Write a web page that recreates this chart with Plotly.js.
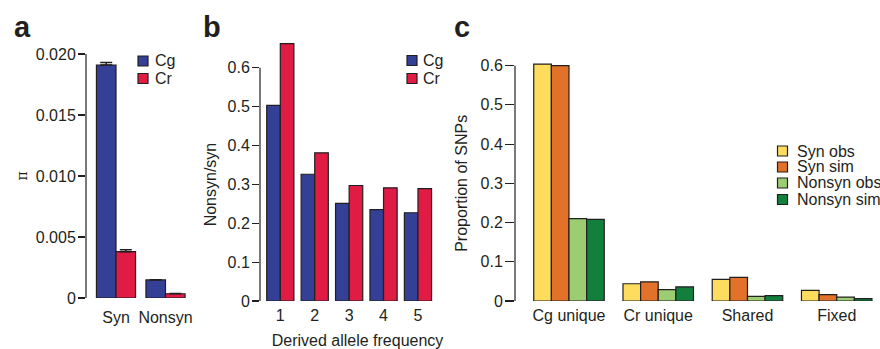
<!DOCTYPE html>
<html><head><meta charset="utf-8">
<script src="https://cdn.plot.ly/plotly-3.0.1.min.js"></script>
<style>html,body{margin:0;padding:0;background:#fff}#chart{width:880px;height:349px}</style>
</head><body><div id="chart"></div>
<script>
// ---- Panel a: nucleotide diversity (pi)
const piCategories = ["Syn", "Nonsyn"];
const piCg = [0.0191, 0.00148];
const piCr = [0.0038, 0.00035];
const piCgErr = [0.0002, 0.00002];
const piCrErr = [0.00015, 0.00002];
const piTickVals = [0, 0.005, 0.010, 0.015, 0.020];
const piTickText = ["0", "0.005", "0.010", "0.015", "0.020"];
// ---- Panel b: nonsyn/syn by derived allele frequency
const dafCategories = ["1", "2", "3", "4", "5"];
const ratioCg = [0.503, 0.326, 0.251, 0.235, 0.227];
const ratioCr = [0.662, 0.381, 0.297, 0.291, 0.289];
// ---- Panel c: proportion of SNPs
const snpCategories = ["Cg unique", "Cr unique", "Shared", "Fixed"];
const synObs = [0.604, 0.044, 0.055, 0.027];
const synSim = [0.600, 0.049, 0.060, 0.016];
const nonsynObs = [0.210, 0.029, 0.012, 0.010];
const nonsynSim = [0.208, 0.036, 0.0135, 0.006];

const speciesNames = ["Cg", "Cr"];
const speciesColors = ["#343f96", "#e01b44"];
const snpNames = ["Syn obs", "Syn sim", "Nonsyn obs", "Nonsyn sim"];
const snpColors = ["#fddc5e", "#e2722a", "#9ccd73", "#127f3c"];

const W = 880, H = 349;
const px = v => v / W;
const py = v => 1 - v / H;
const FONT = "Liberation Sans, Arial, Helvetica, sans-serif";
const FS = 16;
const TXT = "#231f20";
const outline = {color: "#231f20", width: 1.2};

const traces = [
  {type: "bar", x: piCategories, y: piCg, name: "Cg", xaxis: "x", yaxis: "y",
   marker: {color: speciesColors[0], line: outline},
   error_y: {type: "data", symmetric: false, array: piCgErr, arrayminus: [0, 0], color: "#231f20", thickness: 1.5, width: 6}},
  {type: "bar", x: piCategories, y: piCr, name: "Cr", xaxis: "x", yaxis: "y",
   marker: {color: speciesColors[1], line: outline},
   error_y: {type: "data", symmetric: false, array: piCrErr, arrayminus: [0, 0], color: "#231f20", thickness: 1.5, width: 6}},
  {type: "bar", x: dafCategories, y: ratioCg, name: "Cg", xaxis: "x2", yaxis: "y2",
   marker: {color: speciesColors[0], line: outline}},
  {type: "bar", x: dafCategories, y: ratioCr, name: "Cr", xaxis: "x2", yaxis: "y2",
   marker: {color: speciesColors[1], line: outline}},
];
[synObs, synSim, nonsynObs, nonsynSim].forEach((arr, i) => {
  traces.push({type: "bar", x: snpCategories, y: arr, name: snpNames[i], xaxis: "x3", yaxis: "y3",
    marker: {color: snpColors[i], line: outline}});
});

const yBase = {showline: false, ticks: "outside", ticklen: 7, tickwidth: 1.2,
  tickcolor: "#231f20", showgrid: false, zeroline: false, fixedrange: true, ticklabelstandoff: -1,
  tickfont: {family: FONT, size: FS, color: TXT}};
const xBase = {showline: false, showgrid: false, zeroline: false, ticks: "outside", tickcolor: "rgba(0,0,0,0)",
  tickfont: {family: FONT, size: FS, color: TXT}, type: "category", fixedrange: true};

const shapes = [], annotations = [];
// y axis lines spanning the tick range only
[["x", "y", 0.02], ["x2", "y2", 0.6], ["x3", "y3", 0.6]].forEach(([xa, ya, top]) => {
  shapes.push({type: "line", xref: xa + " domain", yref: ya, x0: 0, x1: 0, y0: 0, y1: top,
    line: {color: "#231f20", width: 1.2}});
});
// y axis titles centred on the axis lines
[["π", 21.5, "y", 0.01, "DejaVu Serif, serif", 14], ["Nonsyn/syn", 210, "y2", 0.3, FONT, FS],
 ["Proportion of SNPs", 461.5, "y3", 0.3, FONT, FS]].forEach(([t, x, ya, yv, fam, sz]) => {
  annotations.push({xref: "paper", yref: ya, x: px(x), y: yv, xanchor: "center", yanchor: "middle", textangle: -90,
    text: t, showarrow: false, font: {family: fam, size: sz, color: TXT}});
});

// legends drawn as squares + text
function legend(names, colors, sqX, textX, rowsY) {
  names.forEach((n, i) => {
    shapes.push({type: "rect", xref: "paper", yref: "paper", x0: px(sqX), x1: px(sqX + 10),
      y0: py(rowsY[i] + 5), y1: py(rowsY[i] - 5), fillcolor: colors[i], line: {color: "#231f20", width: 1.2}});
    annotations.push({xref: "paper", yref: "paper", x: px(textX), y: py(rowsY[i]), xanchor: "left", yanchor: "middle",
      text: n, showarrow: false, font: {family: FONT, size: FS, color: TXT}});
  });
}
legend(speciesNames, speciesColors, 138, 153, [61, 78.5]);
legend(speciesNames, speciesColors, 407, 421, [60.5, 78.5]);
legend(snpNames, snpColors, 777.5, 795, [151, 167, 183, 199.5]);

[["a", 12], ["b", 201], ["c", 452]].forEach(([t, x]) => {
  annotations.push({xref: "paper", yref: "paper", x: px(x), y: py(27), xanchor: "left", yanchor: "middle",
    text: "<b>" + t + "</b>", showarrow: false, font: {family: FONT, size: 29, color: TXT}});
});

const layout = {
  width: W, height: H, margin: {l: 0, r: 0, t: 0, b: 0}, paper_bgcolor: "#fff", plot_bgcolor: "rgba(0,0,0,0)",
  showlegend: false, barmode: "group", font: {family: FONT, color: TXT},
  xaxis: Object.assign({}, xBase, {domain: [px(86), px(190)], range: [-0.606, 1.495], anchor: "y", ticklen: 5}),
  yaxis: Object.assign({}, yBase, {domain: [py(298), py(54)], range: [0, 0.02], anchor: "x",
    tickvals: piTickVals, ticktext: piTickText}),
  xaxis2: Object.assign({}, xBase, {domain: [px(260), px(455)], range: [-0.59, 5.076], anchor: "y2", ticklen: 0,
    title: {text: "Derived allele frequency", font: {family: FONT, size: FS, color: TXT}, standoff: 13}}),
  yaxis2: Object.assign({}, yBase, {domain: [py(301), py(36.6)], range: [0, 0.68], anchor: "x2", tickvals: [0, 0.1, 0.2, 0.3, 0.4, 0.5, 0.6]}),
  xaxis3: Object.assign({}, xBase, {domain: [px(515), px(880)], range: [-0.605, 3.485], anchor: "y3", ticklen: 0}),
  yaxis3: Object.assign({}, yBase, {domain: [py(301), py(57.8)], range: [0, 0.62], anchor: "x3",
    tickvals: [0, 0.1, 0.2, 0.3, 0.4, 0.5, 0.6], ticklen: 9}),
  bargap: 0.21, bargroupgap: 0,
  shapes: shapes, annotations: annotations
};
Plotly.newPlot("chart", traces, layout, {staticPlot: true, displayModeBar: false});
</script></body></html>
